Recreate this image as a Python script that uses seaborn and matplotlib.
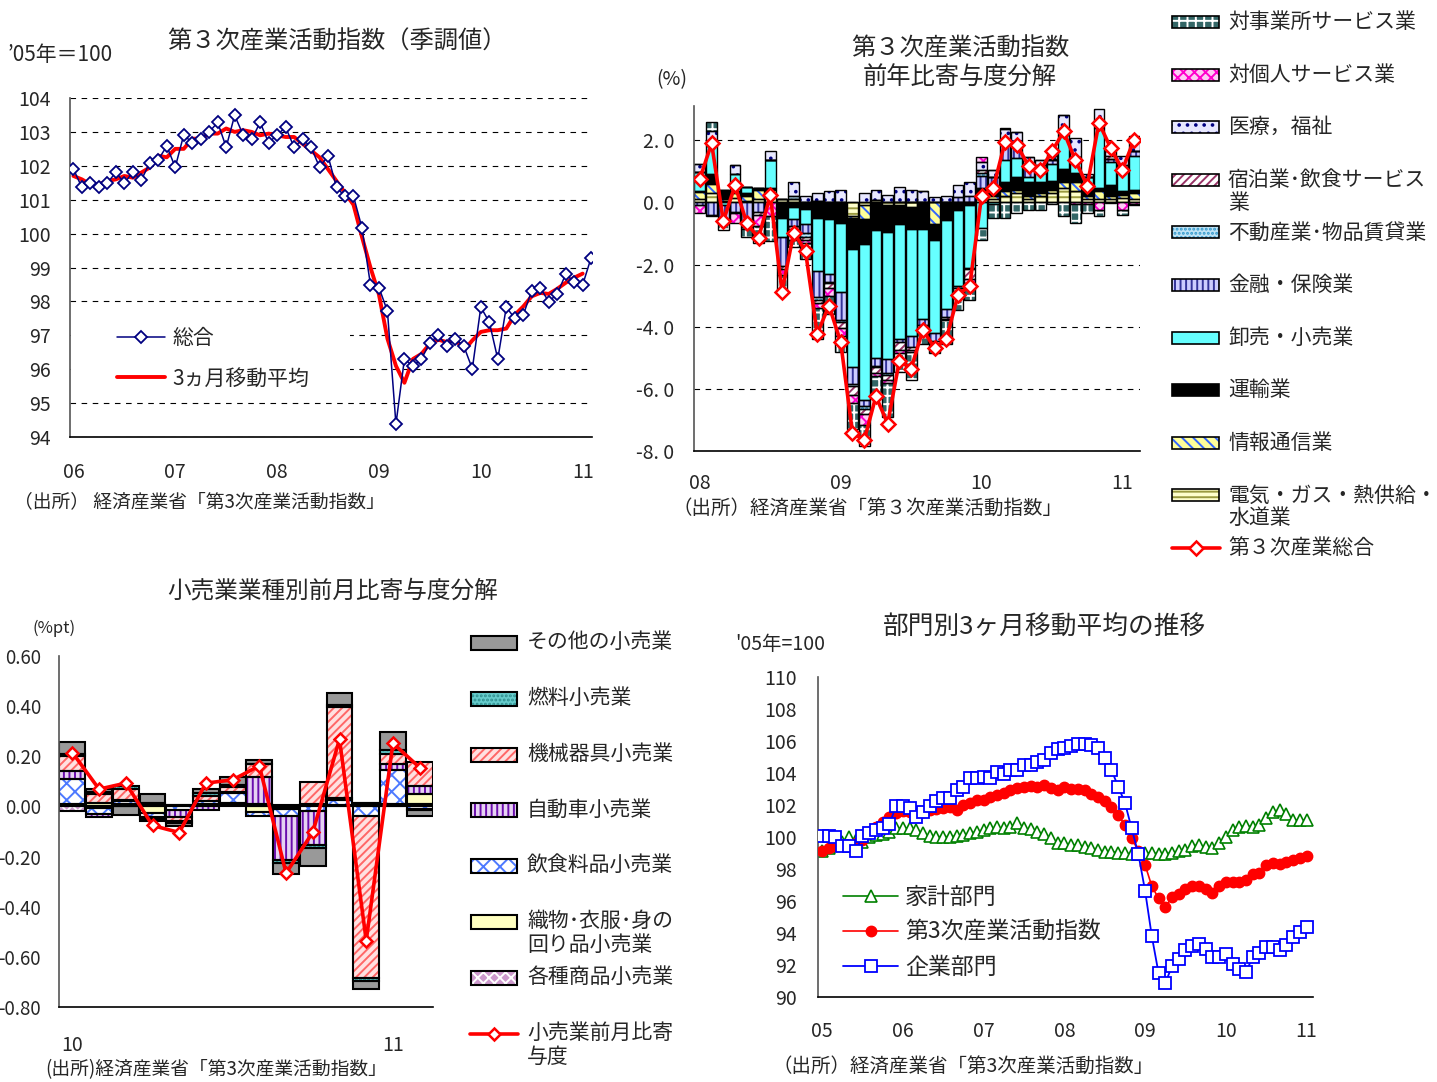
import numpy as np
import matplotlib
matplotlib.use('Agg')
import matplotlib.pyplot as plt
from matplotlib.patches import Rectangle
from matplotlib.lines import Line2D
import seaborn as sns

W, H = 1437, 1082

# ---------------- panel 1 : index (seasonally adjusted), 2006/01 - 2011/02
p1_total = [101.91, 101.36, 101.49, 101.36, 101.49, 101.81, 101.49, 101.81, 101.58, 102.09,
            102.18, 102.58, 101.96, 102.91, 102.68, 102.78, 103.0, 103.28, 102.55, 103.49,
            102.91, 102.78, 103.28, 102.68, 102.91, 103.14, 102.55, 102.78, 102.55, 101.96,
            102.29, 101.36, 101.1, 101.1, 100.17, 98.49, 98.41, 97.71, 94.38, 96.3,
            96.09, 96.3, 96.78, 97.0, 96.68, 96.9, 96.68, 96.01, 97.83, 97.39,
            96.3, 97.83, 97.5, 97.6, 98.32, 98.41, 97.99, 98.22, 98.8, 98.58,
            98.49, 99.29]
p1_ma3 = [101.7, 101.6, 101.45, 101.45, 101.55, 101.6, 101.7, 101.65, 101.8, 101.95,
          102.3, 102.25, 102.5, 102.5, 102.8, 102.8, 102.95, 102.95, 103.1, 103.0,
          103.05, 103.0, 102.9, 102.95, 102.9, 102.85, 102.85, 102.65, 102.45, 102.25,
          101.9, 101.55, 101.2, 100.85, 99.9, 99.0, 98.2, 96.9, 96.1, 95.6,
          96.3, 96.45, 96.75, 96.87, 96.8, 96.9, 96.55, 96.85, 97.1, 97.15,
          97.15, 97.2, 97.6, 97.85, 98.15, 98.25, 98.22, 98.37, 98.55, 98.7,
          98.82]
p1_years = ['06', '07', '08', '09', '10', '11']

# ---------------- panel 2 : y/y contributions, 2008/01 - 2011/02
p2_total = [0.76, 1.9, -0.6, 0.55, -0.68, -1.14, 0.23, -2.87, -0.97, -1.57,
            -4.23, -3.32, -4.5, -7.41, -7.65, -6.24, -7.12, -5.09, -5.35, -4.1,
            -4.69, -4.39, -2.98, -2.68, 0.21, 0.46, 1.94, 1.86, 1.17, 1.03,
            1.64, 2.28, 1.35, 0.53, 2.56, 1.75, 1.05, 2.02]
elec = [.10, .30, .05, .15, .05, .10, .30, .10, .10, 0, .05, 0, 0, -.45, -.10, .08, -.10, -.10, -.15,
        0, 0, 0, 0, 0, .10, .10, .20, .30, .10, .20, .30, .45, .37, .10, .10, .10, .15, .10]
info = [.22, .30, .05, .15, .15, .30, .10, 0, 0, 0, 0, 0, 0, -.05, -.45, 0, 0, 0, 0,
        0, -.70, 0, 0, 0, .05, .10, .15, .10, .10, .10, .10, .20, .27, .10, .25, .10, .10, .20]
transport = [.05, .30, .30, .05, .10, .07, .05, -.50, -.15, -.20, -.50, -.55, -.65, -1.00, -.80, -.90, -.85, -.60, -.70,
             -.85, -.50, -.56, -.25, -.10, .30, .30, .30, .42, .45, .35, .30, .42, .30, .30, .10, .35, .10, .10]
trade = [.60, .90, -.10, .55, .20, 0, .90, -.60, -.40, -.50, -1.70, -1.75, -2.25, -3.80, -5.00, -4.10, -4.10, -3.70, -3.45,
         -2.90, -3.00, -2.87, -2.45, -2.00, -.83, -.05, .70, .60, .15, .30, .55, 1.10, .37, .30, 1.95, .75, .70, 1.10]
finance = [-.07, -.40, -.50, -.30, -.80, -.30, 0, -.95, -.20, -.30, -.85, -.25, -.90, -.55, -.20, -.25, -.45, -.10, -.35,
           -.20, -.25, -.27, .16, .20, .40, .30, .55, .40, .35, .15, .10, .05, .15, 0, .10, .10, .10, .15]
realty = [0, .10, 0, 0, -.05, 0, 0, 0, .10, -.12, -.10, -.05, -.05, -.05, -.10, -.05, -.05, 0, 0,
          0, 0, 0, -.05, -.05, .10, 0, .05, 0, .05, .05, 0, 0, 0, 0, 0, 0, 0, 0]
hotel = [0, 0, -.05, -.05, 0, -.10, 0, -.10, -.10, -.10, -.10, -.15, -.20, -.30, -.15, -.20, -.15, -.25, -.10,
         -.10, -.10, -.05, -.10, -.30, .10, 0, .05, 0, .05, .05, .05, 0, 0, 0, .05, .10, .05, 0]
medical = [.25, .40, 0, .30, 0, 0, .30, 0, .44, .21, .25, .35, .40, 0, .30, .32, .25, .50, .40,
           .35, .18, .20, .40, .44, .25, .25, .35, .45, .20, .15, .10, .60, .60, .10, .45, .15, .30, .50]
personal = [-.28, -.05, -.05, -.30, 0, -.35, -.45, -.20, -.35, -.10, -.15, -.25, -.25, -.25, -.35, -.10, -.10, -.10, -.05,
            0, -.10, -.05, -.05, -.15, .15, 0, .05, 0, 0, 0, .05, 0, -.05, -.05, -.25, -.02, -.25, -.05]
business = [0, .30, -.20, 0, -.25, -.55, -.80, -.60, -.25, -.50, -1.00, -.60, -.50, -.85, -.70, -.70, -1.10, -.60, -.90,
            -.50, -.20, -.75, -.55, -.55, -.37, -.45, -.50, -.35, -.25, -.25, -.05, -.45, -.60, -.30, -.20, 0, -.15, -.05]
p2_years = ['08', '09', '10', '11']

# ---------------- panel 3 : retail m/m contributions, 2010/01 - 2011/02
p3_total = [0.215, 0.069, 0.093, -0.076, -0.104, 0.093, 0.106, 0.162, -0.266, -0.103,
            0.268, -0.535, 0.252, 0.155]
general = [-.02, -.005, 0, .005, .005, .005, .005, .008, -.005, .005, 0, .008, .003, .01]
apparel = [.01, .015, .01, -.027, 0, .005, .01, -.024, -.005, .005, .005, .005, .005, .04]
food = [.10, -.025, .01, -.015, -.015, .012, .037, -.015, -.03, -.02, .022, -.04, .137, -.01]
auto = [.03, -.012, .005, .01, -.027, -.013, .005, .108, -.173, -.134, .005, 0, .024, .033]
machinery = [.06, .033, .046, -.01, -.018, .02, .022, .053, .005, .089, .365, -.644, .04, .093]
fuel = [.01, .01, .01, -.005, -.005, .01, .005, 0, -.012, -.01, .008, -.013, .015, -.005]
other = [.045, .012, -.036, .035, -.012, .017, .032, .015, -.044, -.073, .046, -.033, .073, -.024]
p3_years = ['10', '11']

# ---------------- panel 4 : 3-month moving averages, 2005/01 - 2011/01
household = [99.12, 99.33, 99.5, 99.7, 100.0, 99.8, 99.7, 100.0, 100.1, 100.19,
             100.33, 100.54, 100.58, 100.54, 100.44, 100.23, 100.06, 100.02, 100.02, 100.02,
             100.06, 100.12, 100.23, 100.33, 100.44, 100.54, 100.6, 100.54, 100.65, 100.86,
             100.54, 100.48, 100.33, 100.19, 99.92, 99.65, 99.6, 99.5, 99.5, 99.4,
             99.29, 99.19, 99.08, 99.08, 99.02, 98.98, 98.94, 98.94, 98.98, 99.02,
             98.94, 98.94, 99.02, 99.12, 99.19, 99.44, 99.5, 99.35, 99.29, 99.6,
             100.02, 100.44, 100.65, 100.69, 100.65, 100.75, 101.17, 101.59, 101.69, 101.44,
             101.06, 101.06, 101.06]
tertiary = [99.12, 99.33, 99.44, 99.5, 99.5, 99.6, 99.8, 100.33, 100.65, 100.96,
            101.27, 101.52, 101.65, 101.59, 101.44, 101.59, 101.69, 101.73, 101.8, 101.9,
            101.69, 102.0, 102.15, 102.32, 102.32, 102.53, 102.63, 102.73, 102.94, 103.05,
            103.11, 103.2, 103.11, 103.26, 103.05, 102.94, 103.11, 102.99, 102.99, 102.94,
            102.69, 102.53, 102.28, 101.9, 101.38, 100.75, 99.92, 99.14, 98.25, 96.93,
            96.16, 95.6, 96.26, 96.43, 96.78, 96.93, 96.93, 96.78, 96.47, 96.93,
            97.16, 97.16, 97.16, 97.31, 97.68, 97.77, 98.25, 98.35, 98.29, 98.45,
            98.56, 98.71, 98.81]
corporate = [100.06, 100.06, 99.98, 99.44, 99.44, 99.14, 100.06, 100.27, 100.44, 100.58,
             100.79, 101.94, 101.94, 101.84, 101.27, 101.59, 101.94, 102.25, 102.42, 102.42,
             102.94, 103.15, 103.67, 103.67, 103.78, 103.67, 104.09, 103.95, 104.2, 104.2,
             104.47, 104.47, 104.66, 104.82, 105.24, 105.49, 105.55, 105.66, 105.82, 105.82,
             105.76, 105.55, 104.93, 104.2, 103.15, 102.15, 100.54, 98.94, 96.64, 93.8,
             91.5, 90.88, 91.92, 92.4, 92.92, 93.17, 93.3, 93.03, 92.5, 92.5,
             92.67, 92.05, 91.77, 91.57, 92.5, 92.76, 93.13, 93.13, 92.92, 93.24,
             93.76, 94.07, 94.38]
p4_years = ['05', '06', '07', '08', '09', '10', '11']

# ---------------- styles
sns.set_style('white')
plt.rcParams['font.family'] = ['Noto Sans CJK JP', 'DejaVu Sans']
plt.rcParams['axes.unicode_minus'] = False
plt.rcParams['hatch.linewidth'] = 1.4


def px(x):
    return x / W


def py(y):
    return 1 - y / H


fig = plt.figure(figsize=(W / 100, H / 100), dpi=100)

# layers in stacking order (first one sits next to zero); legend is drawn in reverse
p2_layers = [
    ('電気・ガス・熱供給・\n水道業', elec, '#ffffcc', '---', '#9a9a40'),
    ('情報通信業', info, '#ffff99', '\\\\\\', '#3366ff'),
    ('運輸業', transport, '#000000', '', '#000000'),
    ('卸売・小売業', trade, '#66ffff', '', '#66ffff'),
    ('金融・保険業', finance, '#ccccff', '|||', '#333399'),
    ('不動産業･物品賃貸業', realty, '#bfe3f5', '....', '#3399cc'),
    ('宿泊業･飲食サービス\n業', hotel, '#ffffff', '////', '#993366'),
    ('医療，福祉', medical, '#e8e8ff', '..', '#000080'),
    ('対個人サービス業', personal, '#ffccf5', 'xxx', '#ff00cc'),
    ('対事業所サービス業', business, '#336666', '++', '#ffffff'),
]
p3_layers = [
    ('各種商品小売業', general, '#cc99cc', 'xxx', '#ffffff'),
    ('織物･衣服･身の\n回り品小売業', apparel, '#ffffc0', '', '#ffffc0'),
    ('飲食料品小売業', food, '#ffffff', 'xx', '#4d79ff'),
    ('自動車小売業', auto, '#e6d2f2', '|||', '#6a0dad'),
    ('機械器具小売業', machinery, '#ffe0e0', '////', '#ff6666'),
    ('燃料小売業', fuel, '#66cccc', '....', '#2f8f8f'),
    ('その他の小売業', other, '#999999', '', '#999999'),
]


def stacked(ax, layers, width, lw):
    x = np.arange(len(layers[0][1]))
    pos = np.zeros(len(x))
    neg = np.zeros(len(x))
    for name, vals, face, hatch, hc in layers:
        v = np.asarray(vals, dtype=float)
        bottom = np.where(v >= 0, pos, neg)
        ax.bar(x, v, width, bottom=bottom, color=face, hatch=hatch, edgecolor=hc,
               linewidth=0, zorder=2)
        ax.bar(x, v, width, bottom=bottom, fill=False, edgecolor='black',
               linewidth=lw, zorder=2.1)
        pos += np.where(v >= 0, v, 0)
        neg += np.where(v < 0, v, 0)


def legend_box(x, y, w, h, face, hatch, hc, lw=1.2):
    fig.add_artist(Rectangle((px(x), py(y + h / 2)), w / W, h / H, transform=fig.transFigure,
                             facecolor=face, hatch=hatch, edgecolor=hc, linewidth=0))
    fig.add_artist(Rectangle((px(x), py(y + h / 2)), w / W, h / H, transform=fig.transFigure,
                             fill=False, edgecolor='black', linewidth=lw))


def legend_line(x0, x1, y, color, marker, ms, mfc):
    fig.add_artist(Line2D([px(x0), px(x1)], [py(y), py(y)], transform=fig.transFigure,
                          color=color, lw=2.6))
    fig.add_artist(Line2D([px((x0 + x1) / 2)], [py(y)], transform=fig.transFigure,
                          color=color, marker=marker, ms=ms, mfc=mfc, mec=color, mew=1.8))


def bottom_spines(ax):
    sns.despine(ax=ax)
    ax.spines['left'].set_color('#555555')
    ax.spines['bottom'].set_color('black')
    for s in ('left', 'bottom'):
        ax.spines[s].set_linewidth(1.2)


# ================= panel 1
ax1 = fig.add_axes([px(70), py(437), px(592 - 70), (437 - 98) / H])
m1 = np.arange(len(p1_total))
sns.lineplot(x=np.arange(len(p1_ma3)), y=p1_ma3, ax=ax1, color='#ff0000', lw=2.8, zorder=2)
sns.lineplot(x=m1, y=p1_total, ax=ax1, color='#000080', lw=1.1, marker='D', markersize=6,
             markerfacecolor='white', markeredgecolor='#000080', markeredgewidth=1.3, zorder=3)
ax1.set_xlim(-0.4, 61.1)
ax1.set_ylim(94, 104)
ax1.set_yticks(range(94, 105))
ax1.set_xticks(np.arange(0, 61, 12))
ax1.set_xticklabels(p1_years)
ax1.set_xticks(np.arange(0, 61, 12)[1:] - 0.3, minor=True)
ax1.tick_params(axis='x', which='major', length=0, pad=18, labelsize=14)
ax1.tick_params(axis='x', which='minor', direction='in', length=7, width=1)
ax1.tick_params(axis='y', length=0, pad=14, labelsize=14)
ax1.yaxis.grid(True, linestyle=(0, (5, 5)), color='black', lw=0.8)
ax1.set_axisbelow(True)
bottom_spines(ax1)
ax1.set_xlabel('')
ax1.set_ylabel('')
# white area behind the legend
ax1.add_patch(Rectangle((px(71), py(396)), (350 - 71) / W, (396 - 320) / H,
                        transform=fig.transFigure, facecolor='white', edgecolor='none', zorder=1.5))
h_tot = Line2D([], [], color='#000080', lw=1.1, marker='D', ms=6, mfc='white', mec='#000080', mew=1.3)
h_ma = Line2D([], [], color='#ff0000', lw=2.8)
ax1.legend([h_tot, h_ma], ['総合', '3ヵ月移動平均'], loc='upper left',
           bbox_to_anchor=(px(117), py(327)), bbox_transform=fig.transFigure,
           frameon=False, fontsize=15, handlelength=2.3, handletextpad=0.35,
           labelspacing=0.9, borderpad=0, borderaxespad=0)

fig.text(px(8), py(55), '’05年＝100', fontsize=15, ha='left', va='center')
fig.text(px(337), py(42), '第３次産業活動指数（季調値）', fontsize=17.5, ha='center', va='center')
fig.text(px(14), py(502), '（出所） 経済産業省「第3次産業活動指数」', fontsize=13.5, ha='left', va='center')

# ================= panel 2
ax2 = fig.add_axes([px(694), py(451), px(1140 - 694), (451 - 106) / H])
stacked(ax2, p2_layers, 0.92, 1.0)
sns.lineplot(x=np.arange(len(p2_total)), y=p2_total, ax=ax2, color='#ff0000', lw=2.6,
             marker='D', markersize=7, markerfacecolor='white', markeredgecolor='#ff0000',
             markeredgewidth=1.8, zorder=4)
ax2.set_xlim(-0.5, len(p2_total) - 0.5)
ax2.set_ylim(-8, 3.1)
ax2.set_yticks([2, 0, -2, -4, -6, -8])
ax2.set_yticklabels(['2. 0', '0. 0', '-2. 0', '-4. 0', '-6. 0', '-8. 0'])
ax2.set_xticks([0, 12, 24, 36])
ax2.set_xticklabels(p2_years)
ax2.set_xticks(np.arange(-0.5, len(p2_total)), minor=True)
ax2.tick_params(axis='x', which='major', length=0, pad=16, labelsize=14)
ax2.tick_params(axis='x', which='minor', direction='in', length=6, width=1)
ax2.tick_params(axis='y', length=0, pad=14, labelsize=14)
ax2.yaxis.grid(True, linestyle=(0, (5, 5)), color='black', lw=0.8)
ax2.set_axisbelow(True)
bottom_spines(ax2)

fig.text(px(672), py(80), '(%)', fontsize=14, ha='center', va='center')
fig.text(px(960), py(63), '第３次産業活動指数\n前年比寄与度分解', fontsize=17.5, ha='center',
         va='center', linespacing=1.15)
fig.text(px(672), py(509), '（出所）経済産業省「第３次産業活動指数」', fontsize=14, ha='left', va='center')

for k, (name, vals, face, hatch, hc) in enumerate(p2_layers[::-1]):
    yk = 22 + 52.6 * k
    legend_box(1172, yk, 47, 12, face, hatch, hc)
    fig.text(px(1228), py(yk - 11), name, fontsize=15, ha='left', va='top', linespacing=1.05)
legend_line(1172, 1220, 548, '#ff0000', 'D', 7, 'white')
fig.text(px(1228), py(548), '第３次産業総合', fontsize=15, ha='left', va='center')

# ================= panel 3
ax3 = fig.add_axes([px(59), py(1007), px(433 - 59), (1007 - 656) / H])
stacked(ax3, p3_layers, 0.97, 1.5)
sns.lineplot(x=np.arange(len(p3_total)), y=p3_total, ax=ax3, color='#ff0000', lw=2.6,
             marker='D', markersize=6.3, markerfacecolor='white', markeredgecolor='#ff0000',
             markeredgewidth=1.8, zorder=4)
ax3.set_xlim(-0.5, len(p3_total) - 0.5)
ax3.set_ylim(-0.8, 0.6)
ax3.set_yticks(np.round(np.arange(-0.8, 0.61, 0.2), 2))
ax3.set_yticklabels(['-0.80', '-0.60', '-0.40', '-0.20', '0.00', '0.20', '0.40', '0.60'])
ax3.set_xticks([0, 12])
ax3.set_xticklabels(p3_years)
ax3.set_xticks(np.arange(0.5, len(p3_total)), minor=True)
ax3.tick_params(axis='x', which='major', length=0, pad=20, labelsize=14)
ax3.tick_params(axis='x', which='minor', direction='in', length=8, width=1)
ax3.tick_params(axis='y', direction='in', length=6, width=1, pad=13, labelsize=13.5)
bottom_spines(ax3)

fig.text(px(333), py(591), '小売業業種別前月比寄与度分解', fontsize=17, ha='center', va='center')
fig.text(px(54), py(628), '(%pt)', fontsize=12, ha='center', va='center')
fig.text(px(45), py(1070), '(出所)経済産業省「第3次産業活動指数」', fontsize=13.5, ha='left', va='center')

for k, (name, vals, face, hatch, hc) in enumerate(p3_layers[::-1]):
    yk = 643 + 55.8 * k
    legend_box(471, yk, 46, 14, face, hatch, hc, lw=1.5)
    fig.text(px(527), py(yk - 12), name, fontsize=15, ha='left', va='top', linespacing=1.1)
legend_line(470, 518, 1034, '#ff0000', 'D', 6.3, 'white')
fig.text(px(527), py(1034 - 12), '小売業前月比寄\n与度', fontsize=15, ha='left', va='top', linespacing=1.1)

# ================= panel 4
ax4 = fig.add_axes([px(818), py(997), px(1313 - 818), (997 - 677) / H])
m4 = np.arange(len(corporate))
sns.lineplot(x=m4, y=household, ax=ax4, color='#008000', lw=1.2, marker='^', markersize=9,
             markerfacecolor='white', markeredgecolor='#008000', markeredgewidth=1.2, zorder=2)
sns.lineplot(x=m4, y=tertiary, ax=ax4, color='#ff0000', lw=1.2, marker='o', markersize=7.5,
             markerfacecolor='#ff0000', markeredgecolor='#ff0000', markeredgewidth=1, zorder=3)
sns.lineplot(x=m4, y=corporate, ax=ax4, color='#0000ff', lw=1.3, marker='s', markersize=8,
             markerfacecolor='white', markeredgecolor='#0000ff', markeredgewidth=1.3, zorder=4)
ax4.set_xlim(-0.6, len(corporate) - 0.05)
ax4.set_ylim(90, 110)
ax4.set_yticks(range(90, 111, 2))
ax4.set_xticks(np.arange(0, 73, 12))
ax4.set_xticklabels(p4_years)
ax4.set_xticks(np.arange(-0.5, len(corporate)), minor=True)
ax4.tick_params(axis='x', which='major', length=0, pad=17, labelsize=14)
ax4.tick_params(axis='x', which='minor', direction='in', length=6, width=1)
ax4.tick_params(axis='y', direction='in', length=6, width=1, pad=15, labelsize=14)
bottom_spines(ax4)
h_hh = Line2D([], [], color='#008000', lw=1.2, marker='^', ms=9, mfc='white', mec='#008000', mew=1.2)
h_tt = Line2D([], [], color='#ff0000', lw=1.2, marker='o', ms=7.5, mfc='#ff0000', mec='#ff0000')
h_cp = Line2D([], [], color='#0000ff', lw=1.3, marker='s', ms=8, mfc='white', mec='#0000ff', mew=1.3)
ax4.legend([h_hh, h_tt, h_cp], ['家計部門', '第3次産業活動指数', '企業部門'], loc='upper left',
           bbox_to_anchor=(px(843), py(886)), bbox_transform=fig.transFigure,
           frameon=False, fontsize=16.5, handlelength=2.4, handletextpad=0.3,
           labelspacing=0.52, borderpad=0, borderaxespad=0)

fig.text(px(1045), py(628), '部門別3ヶ月移動平均の推移', fontsize=18.5, ha='center', va='center')
fig.text(px(735), py(645), '\'05年=100', fontsize=14, ha='left', va='center')
fig.text(px(772), py(1067), '（出所）経済産業省「第3次産業活動指数」', fontsize=14, ha='left', va='center')

fig.savefig('out.png', dpi=100)
